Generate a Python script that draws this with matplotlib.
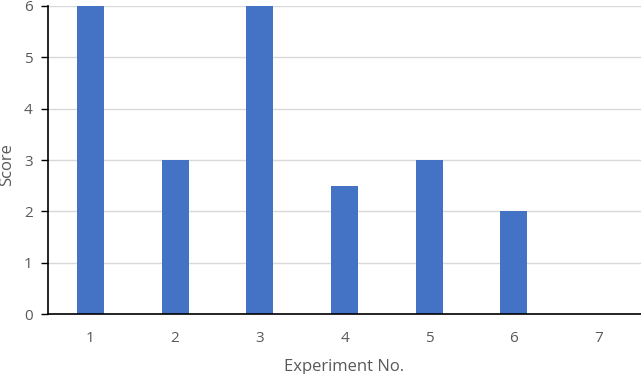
import numpy as np
import matplotlib.pyplot as plt

experiments = ["1", "2", "3", "4", "5", "6", "7"]
scores = [6, 3, 6, 2.5, 3, 2, 0]

plt.rcParams['font.family'] = ['Open Sans', 'DejaVu Sans']

fig = plt.figure(figsize=(6.41, 3.74), dpi=100)
ax = fig.add_axes([0.0749, 0.160, 0.9251, 0.824])

x = np.arange(len(experiments))
ax.bar(x, scores, width=0.32, color="#4472C4", zorder=3)

ax.set_xlim(-0.5, len(experiments) - 0.5)
ax.set_ylim(0, 6)
ax.set_yticks(range(0, 7))
ax.set_xticks(x, experiments)

ax.grid(axis="y", color="#D9D9D9", linewidth=1, zorder=0)
for s in ["top", "right"]:
    ax.spines[s].set_visible(False)
ax.spines["left"].set_color("black")
ax.spines["bottom"].set_color("black")
ax.spines["left"].set_linewidth(1.2)
ax.spines["bottom"].set_linewidth(1.2)
ax.spines["bottom"].set_zorder(4)

ax.tick_params(axis="y", length=5, width=1, color="black", labelsize=11, labelcolor="#595959", pad=6)
ax.tick_params(axis="x", length=0, labelsize=11, labelcolor="#595959", pad=12)

ax.set_xlabel("Experiment No.", fontsize=12, color="#595959")
ax.set_ylabel("Score", fontsize=12, color="#595959")
ax.xaxis.set_label_coords(0.5, -0.145)
ax.yaxis.set_label_coords(-0.056, 0.484)

fig.savefig("out.png", dpi=100)
plt.close(fig)
